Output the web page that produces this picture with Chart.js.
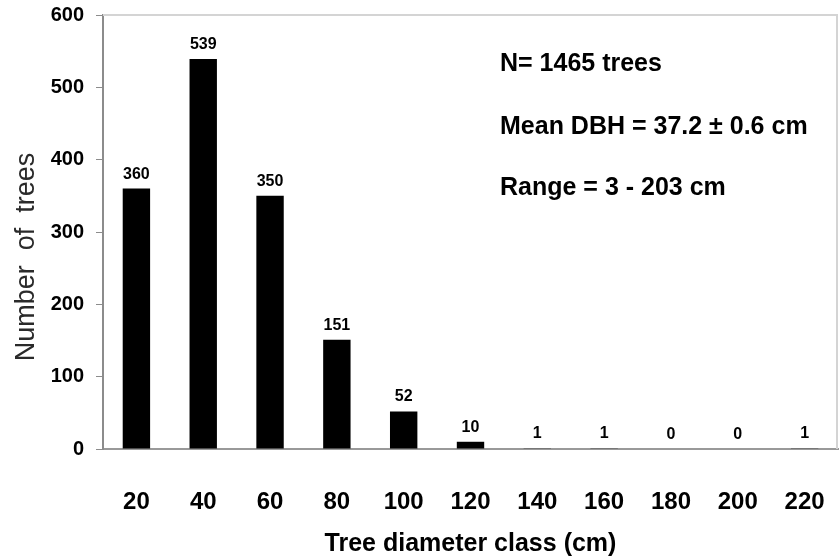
<!DOCTYPE html>
<html>
<head>
<meta charset="utf-8">
<script src="https://cdn.jsdelivr.net/npm/chart.js@4/dist/chart.umd.min.js"></script>
<style>
  html, body { margin: 0; padding: 0; background: #fff; }
  #wrap { width: 839px; height: 560px; }
</style>
</head>
<body>
<div id="wrap"><canvas id="dbh-chart"></canvas></div>
<script>
"use strict";

const diameterClasses = ['20', '40', '60', '80', '100', '120', '140', '160', '180', '200', '220'];
const treeCounts = [360, 539, 350, 151, 52, 10, 1, 1, 0, 0, 1];
const yTicks = [0, 100, 200, 300, 400, 500, 600];
const notes = ['N= 1465 trees', 'Mean DBH = 37.2 \u00b1 0.6 cm', 'Range = 3 - 203 cm'];
const yTitle = 'Number  of  trees';

const fontName = '"Liberation Sans", Arial, sans-serif';

// numbers on top of the bars
const barLabels = {
    id: 'barLabels',
    afterDatasetsDraw(chart) {
        const ctx = chart.ctx;
        const meta = chart.getDatasetMeta(0);
        ctx.save();
        ctx.font = 'bold 16px ' + fontName;
        ctx.fillStyle = '#000';
        ctx.textAlign = 'center';
        ctx.textBaseline = 'alphabetic';
        meta.data.forEach(function (bar, i) {
            ctx.fillText(String(treeCounts[i]), bar.x, bar.y - 10);
        });
        ctx.restore();
    }
};

// light frame on top and right, the y title and the text block
const frameAndNotes = {
    id: 'frameAndNotes',
    afterDraw(chart) {
        const ctx = chart.ctx;
        const area = chart.chartArea;
        ctx.save();
        ctx.strokeStyle = '#d4d4d4';
        ctx.lineWidth = 2;
        ctx.beginPath();
        ctx.moveTo(area.left, area.top);
        ctx.lineTo(area.right - 1, area.top);
        ctx.lineTo(area.right - 1, area.bottom);
        ctx.stroke();

        ctx.font = 'bold 25px ' + fontName;
        ctx.fillStyle = '#000';
        ctx.textAlign = 'left';
        ctx.textBaseline = 'middle';
        const ys = [64, 127, 188];
        for (let i = 0; i < notes.length; i++) {
            ctx.fillText(notes[i], 500, ys[i]);
        }

        ctx.translate(27, 257);
        ctx.rotate(-Math.PI / 2);
        ctx.font = '27px ' + fontName;
        ctx.fillStyle = '#2a2a2a';
        ctx.textAlign = 'center';
        ctx.fillText(yTitle, 0, 0);
        ctx.restore();
    }
};

const ctx = document.getElementById('dbh-chart').getContext('2d');

new Chart(ctx, {
    type: 'bar',
    data: {
        labels: diameterClasses,
        datasets: [{
            label: 'Number of trees',
            data: treeCounts,
            backgroundColor: '#000',
            borderWidth: 0,
            barPercentage: 0.41,
            categoryPercentage: 1.0
        }]
    },
    options: {
        responsive: true,
        maintainAspectRatio: false,
        animation: false,
        devicePixelRatio: 1,
        layout: { padding: { top: 15, right: 1, bottom: 0, left: 0 } },
        plugins: {
            legend: { display: false },
            tooltip: { enabled: false }
        },
        scales: {
            x: {
                grid: { display: false },
                border: { display: true, color: '#999', width: 2 },
                ticks: {
                    color: '#000',
                    font: { family: fontName, size: 24, weight: 'bold' },
                    padding: 31,
                    maxRotation: 0,
                    autoSkip: false
                },
                title: {
                    display: true,
                    text: 'Tree diameter class (cm)',
                    color: '#000',
                    font: { family: fontName, size: 25, weight: 'bold' },
                    padding: { top: 0, bottom: 1 }
                },
                afterFit(scale) {
                    scale.height = 111;
                    scale.paddingLeft = 0;
                    scale.paddingRight = 0;
                }
            },
            y: {
                min: 0,
                max: 600,
                afterBuildTicks(scale) {
                    scale.ticks = yTicks.map(v => ({ value: v }));
                },
                grid: {
                    drawOnChartArea: false,
                    drawTicks: true,
                    tickLength: 7,
                    color: '#8c8c8c'
                },
                border: { display: true, color: '#8c8c8c', width: 2 },
                ticks: {
                    color: '#000',
                    font: { family: fontName, size: 20, weight: 'bold' },
                    padding: 12
                },
                afterFit(scale) {
                    scale.width = 103;
                    scale.paddingTop = 0;
                    scale.paddingBottom = 0;
                }
            }
        }
    },
    plugins: [barLabels, frameAndNotes]
});
</script>
</body>
</html>
